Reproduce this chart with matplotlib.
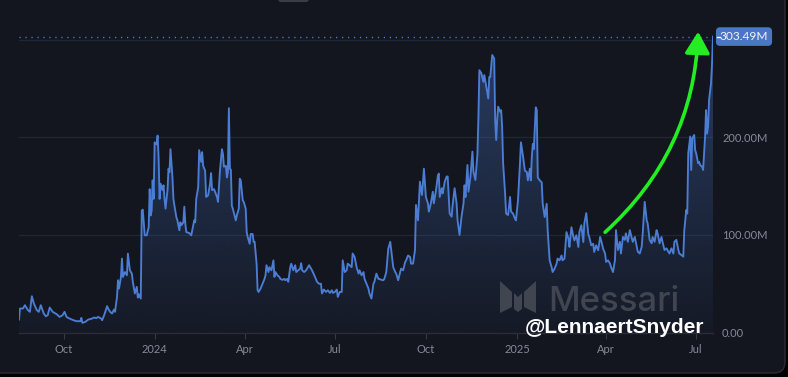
import matplotlib
matplotlib.use("Agg")
import matplotlib.pyplot as plt
import matplotlib.dates as mdates
import numpy as np
import pandas as pd
from matplotlib.patches import FancyBboxPatch, Polygon, FancyArrowPatch
from matplotlib.transforms import blended_transform_factory, IdentityTransform
from matplotlib.colors import LinearSegmentedColormap, to_rgb

# ---------------- data ----------------
start_date = "2023-08-17"
day_offsets = [
    0, 1, 4, 6, 9, 11, 13, 15, 18, 20, 22, 25, 27, 29, 31, 34, 38, 41, 44, 46, 48, 51, 55, 58, 62, 63, 64, 67, 70, 73, 76, 78, 80, 83, 84, 86, 89, 90, 92, 94, 96,
    97, 99, 100, 101, 103, 104, 105, 107, 109, 110, 112, 114, 115, 117, 119, 120, 121, 123, 124, 125, 127, 129, 131, 132, 133, 134, 135, 136, 137, 139, 140, 141, 142, 143, 145, 146, 147, 148, 150, 151, 152, 153, 155, 156, 157, 159, 160, 162, 163, 164, 166, 167, 168, 169, 172, 174, 175, 177, 178, 179, 181, 182, 184, 185, 186, 188, 189, 191, 193, 194, 195, 197,
    200, 201, 203, 205, 206, 207, 209, 210, 211, 212, 213, 214, 215, 216, 219, 220, 222, 223, 224, 226, 227, 229, 230, 231, 233, 234, 236, 237, 238, 240, 241, 242, 244, 246, 248, 249, 250, 252, 253, 255, 257, 258, 259, 261, 263, 264, 266, 268, 269, 271, 272, 274, 275, 277, 279, 280, 282, 284, 285, 286, 288, 290, 293, 295, 296,
    299, 301, 303, 305, 306, 308, 310, 312, 314, 316, 317, 319, 321, 322, 324, 326, 327, 329, 331, 332, 334, 336, 337, 339, 341, 343, 344, 346, 348, 349, 351, 353, 354, 356, 358, 359, 361, 363, 364, 366, 368, 369, 371, 373, 375, 376, 378, 380, 381, 383, 385, 386, 388, 390, 391, 393, 395, 396, 398,
    400, 401, 403, 405, 407, 408, 409, 411, 413, 414, 416, 418, 419, 421, 423, 424, 425, 427, 428, 430, 432, 433, 435, 437, 438, 440, 442, 443, 445, 447, 449, 450, 451, 453, 454, 456, 458, 459, 461, 463, 464, 465, 467, 469, 470, 472, 474, 475, 476, 478, 480, 481, 482, 483, 484, 486, 487, 488, 489, 491, 492, 494, 496, 497, 499,
    501, 502, 504, 506, 507, 509, 511, 513, 514, 516, 517, 518, 519, 520, 522, 523, 524, 526, 528, 529, 531, 533, 534, 536, 538, 539, 541, 543, 544, 546, 548, 549, 551, 553, 555, 556, 558, 560, 561, 563, 565, 566, 568, 570, 571, 573, 575, 576, 578, 580, 581, 583, 585, 587, 588, 590, 592, 593, 595, 597, 598, 600,
    602, 603, 605, 607, 608, 610, 612, 613, 615, 617, 619, 620, 622, 624, 625, 627, 629, 630, 632, 634, 635, 637, 639, 640, 642, 644, 645, 647, 649, 650, 652, 654, 655, 657, 659, 661, 662, 664, 666, 667, 669, 671, 672, 674, 675, 676, 678, 679, 680, 682, 683, 684, 686, 687, 688, 690, 691, 693, 694, 695, 696, 697, 699, 700, 701,
]
volume_m = [
    13.3, 24.6, 24.6, 28, 22.9, 21.2, 37.2, 29.7, 22.9, 21.2, 28, 19.5, 16.7, 17.7, 25.6, 21.2, 18.8, 16, 17.7, 21.2, 16, 14.3, 12.6, 11.6, 11.6, 15, 9.9, 10.9, 13.3, 14, 15.4, 14.7, 16, 14.3, 12.6, 17.7, 27, 24.6, 21.2, 19.5, 23.5,
    21.2, 36.5, 53.6, 45, 57, 75.8, 57, 62, 58.7, 80.9, 63.8, 60.4, 51.9, 40, 46.8, 35.8, 39.2, 34.8, 125, 126, 99.7, 99.7, 108, 147, 120, 125, 156, 137, 195, 193, 202, 180, 137, 152.6, 146, 151, 137, 127, 146, 168, 164.5, 188, 159, 137, 130, 118, 115, 104.8, 113, 110, 113, 129, 111.6, 103, 102, 99.7, 104.8, 115, 113, 137, 149, 187, 175, 185, 171, 166, 139, 140.6, 152.6, 163.5, 146, 147,
    139, 134, 166, 188, 183, 170, 171, 159, 164.5, 230, 168, 167, 130, 127, 115, 120, 127, 157.7, 156, 135.5, 134, 127, 103, 98, 91, 101, 101, 93, 93, 70.6, 43.3, 41.6, 45, 50, 55, 58.7, 69, 62, 67, 63.8, 74, 57, 62, 58.7, 57, 55, 54, 55, 53.6, 55, 52, 67, 70.6, 63.8, 69, 62, 63.8, 65.5, 71, 63.8, 62, 63.8, 69, 65.5, 63.8,
    57, 52, 50, 50, 40, 44, 41.6, 43.3, 40.6, 43.3, 40.6, 41.6, 44, 36.5, 41.6, 41.6, 74, 62, 63.8, 70.6, 69, 67, 81, 77.5, 67, 60.4, 63.8, 58.7, 62, 55, 50, 45, 40, 34.8, 50, 52, 60.4, 55, 55, 54, 53.6, 55, 62, 86, 93, 84, 67, 62, 60.4, 53.6, 62, 65.5, 63.8, 72, 74, 79, 77.5, 70.6, 70.6,
    84.6, 130.8, 115, 154.7, 141, 153, 168, 139, 132.5, 124, 132.5, 144.4, 132.5, 144.4, 160, 163, 139, 148, 142.7, 154.7, 160, 160, 122, 118.8, 130.8, 148, 132.5, 115, 100, 118.8, 132.5, 151, 139, 171.8, 144.4, 160, 185.5, 165, 156.4, 182, 218, 269, 266, 257, 264, 252, 240, 262, 262, 284.6, 281, 216, 197.4, 218, 231.6, 226.5, 228, 211, 173.5, 142.7, 122, 120.5, 139, 124, 122,
    116.7, 115, 135.5, 173, 195, 181.6, 166, 164.5, 156, 168, 156, 180, 193.5, 188, 231, 228, 159, 156, 154, 132, 118.4, 132, 104.8, 74, 67, 62, 65.5, 70.6, 75.8, 74, 79, 74, 75.8, 103, 96, 87.7, 108, 98, 94.5, 99.7, 87.7, 103, 110, 92.8, 111.6, 122.5, 101, 98, 89.4, 91, 82.6, 89.4, 84.3, 98, 94.5, 86, 81, 72.4, 74, 70.6, 67, 62,
    74.4, 105, 84.6, 93, 81, 98, 95, 101.7, 93, 105, 96.6, 93, 98, 88, 83, 81, 88, 101.7, 134, 115, 112, 95, 91.5, 98, 93, 105, 101.7, 91.5, 98, 93, 84.6, 86.3, 84.6, 81, 86.3, 81, 93, 95, 84.6, 81, 79.5, 77.8, 105, 125.6, 122, 183.8, 201, 166.7, 199, 202.6, 187, 183.8, 173.5, 175, 171.8, 170, 166.7, 201, 228, 204, 211, 238.5, 255.6, 276, 303.49,
]
assert len(day_offsets) == len(volume_m), (len(day_offsets), len(volume_m))

last_value = volume_m[-1]
last_label = "303.49M"
y_ticks = [0, 100, 200, 300]
y_tick_labels = ["0.00", "100.00M", "200.00M", ""]
x_tick_dates = ["2023-10-01", "2024-01-01", "2024-04-01", "2024-07-01",
                "2024-10-01", "2025-01-01", "2025-04-01", "2025-07-01"]
x_tick_labels = ["Oct", "2024", "Apr", "Jul", "Oct", "2025", "Apr", "Jul"]
arrow_start = ("2025-03-31", 102.8)
arrow_end = ("2025-07-03", 308.5)

# ---------------- style ----------------
W, H = 788, 377
BG = "#13161f"
LINE = "#4c7dd4"
GRID = "#222633"
TXT = "#858a96"

fig = plt.figure(figsize=(W / 100, H / 100), dpi=100, facecolor="#000000")

# card background with rounded corners
card = FancyBboxPatch((-30, 4), 815, H + 40,
                      boxstyle="round,pad=0,rounding_size=11",
                      transform=IdentityTransform(), facecolor=BG,
                      edgecolor="#2a2d36", linewidth=1.0, zorder=0)
fig.add_artist(card)
tab = FancyBboxPatch((278, H - 2), 31, 8, boxstyle="round,pad=0,rounding_size=3",
                     transform=IdentityTransform(), facecolor="#3a3d46",
                     edgecolor="none", zorder=1)
fig.add_artist(tab)

ax = fig.add_axes([19 / W, 44.5 / H, 694 / W, 312.5 / H])
ax.set_facecolor("none")

dates = pd.to_datetime(start_date) + pd.to_timedelta(day_offsets, unit="D")
x = mdates.date2num(dates)
y = np.array(volume_m, dtype=float)
YTOP = 320.5

# gradient fill under the line
r, g, b = to_rgb(LINE)
cmap = LinearSegmentedColormap.from_list("fillgrad", [(r, g, b, 0.04), (r, g, b, 0.40)])
verts = np.column_stack([np.r_[x[0], x, x[-1]], np.r_[0, y, 0]])
clip = Polygon(verts, closed=True, transform=ax.transData, facecolor="none", edgecolor="none")
ax.add_patch(clip)
grad = np.linspace(0, 1, 256).reshape(-1, 1)
im = ax.imshow(grad, extent=[x[0], x[-1], 0, YTOP], origin="lower", aspect="auto",
               cmap=cmap, zorder=2, interpolation="bicubic")
im.set_clip_path(clip)

ax.plot(x, y, color=LINE, lw=1.35, zorder=4, solid_joinstyle="round")

# last value dotted line
ax.axhline(last_value, color=LINE, lw=1.0, ls=(0, (0.9, 3.4)), zorder=3)

ax.set_xlim(x[0], x[-1])
ax.set_ylim(0, YTOP)

# grid / axes
ax.set_yticks(y_ticks)
ax.set_yticklabels(y_tick_labels)
ax.yaxis.tick_right()
ax.grid(axis="y", color=GRID, lw=0.9, zorder=1)
ax.set_axisbelow(True)
tick_x = mdates.date2num(pd.to_datetime(x_tick_dates))
ax.set_xticks(tick_x)
ax.set_xticklabels(x_tick_labels)
for s in ["left", "right", "top"]:
    ax.spines[s].set_visible(False)
ax.spines["bottom"].set_color("#2a2e3b")
ax.spines["bottom"].set_linewidth(1.0)
ax.tick_params(axis="y", length=0, pad=6.5, labelcolor=TXT, labelsize=8)
ax.tick_params(axis="x", length=4.5, width=0.8, color="#353a47", pad=4,
               labelcolor=TXT, labelsize=8)
for lab in ax.get_xticklabels() + ax.get_yticklabels():
    lab.set_family("Lato")

# last value label box
bt = blended_transform_factory(ax.transAxes, ax.transData)
ax.text((744 - 19) / 694, last_value, last_label, transform=bt, ha="center", va="center",
        color="#f2f4f8", fontsize=8.6, family="Lato", zorder=6,
        bbox=dict(boxstyle="round,pad=0.32,rounding_size=0.35", fc="#4a77c4", ec="none"))
ax.plot([(716.5 - 19) / 694, (719.5 - 19) / 694], [last_value, last_value], transform=bt,
        color="white", lw=1.0, clip_on=False, zorder=7)

# green arrow
arrow = FancyArrowPatch(
    (mdates.date2num(pd.Timestamp(arrow_start[0])), arrow_start[1]),
    (mdates.date2num(pd.Timestamp(arrow_end[0])), arrow_end[1]),
    connectionstyle="arc3,rad=0.21",
    arrowstyle="-|>,head_length=0.65,head_width=0.38",
    mutation_scale=20, color="#22ee22", lw=2.6, shrinkA=0, shrinkB=0,
    transform=ax.transData, zorder=8, clip_on=False)
ax.add_patch(arrow)

# watermark logo + text
def px(xp, yp):
    return (xp / W, 1 - yp / H)

logo_color = "#454a55"
for pts in [
    [(500, 281), (512, 292), (512, 307), (500, 313)],
    [(514, 293), (518, 297), (522, 293), (522, 309), (518, 312), (514, 309)],
    [(524, 292), (536, 281), (536, 313), (524, 307)],
]:
    fig.add_artist(Polygon([px(*p) for p in pts], closed=True, transform=fig.transFigure,
                           facecolor=logo_color, edgecolor="none", alpha=0.9, zorder=5))
fig.text(*px(548, 311), "Messari", fontsize=25, color=logo_color, alpha=0.9,
         family="Inter", weight="medium", ha="left", va="baseline", zorder=5)
fig.text(*px(525, 333), "@LennaertSnyder", fontsize=15, color="white",
         family="Liberation Sans", weight="bold", ha="left", va="baseline", zorder=9)

fig.savefig("out.png", dpi=100, facecolor=fig.get_facecolor())
